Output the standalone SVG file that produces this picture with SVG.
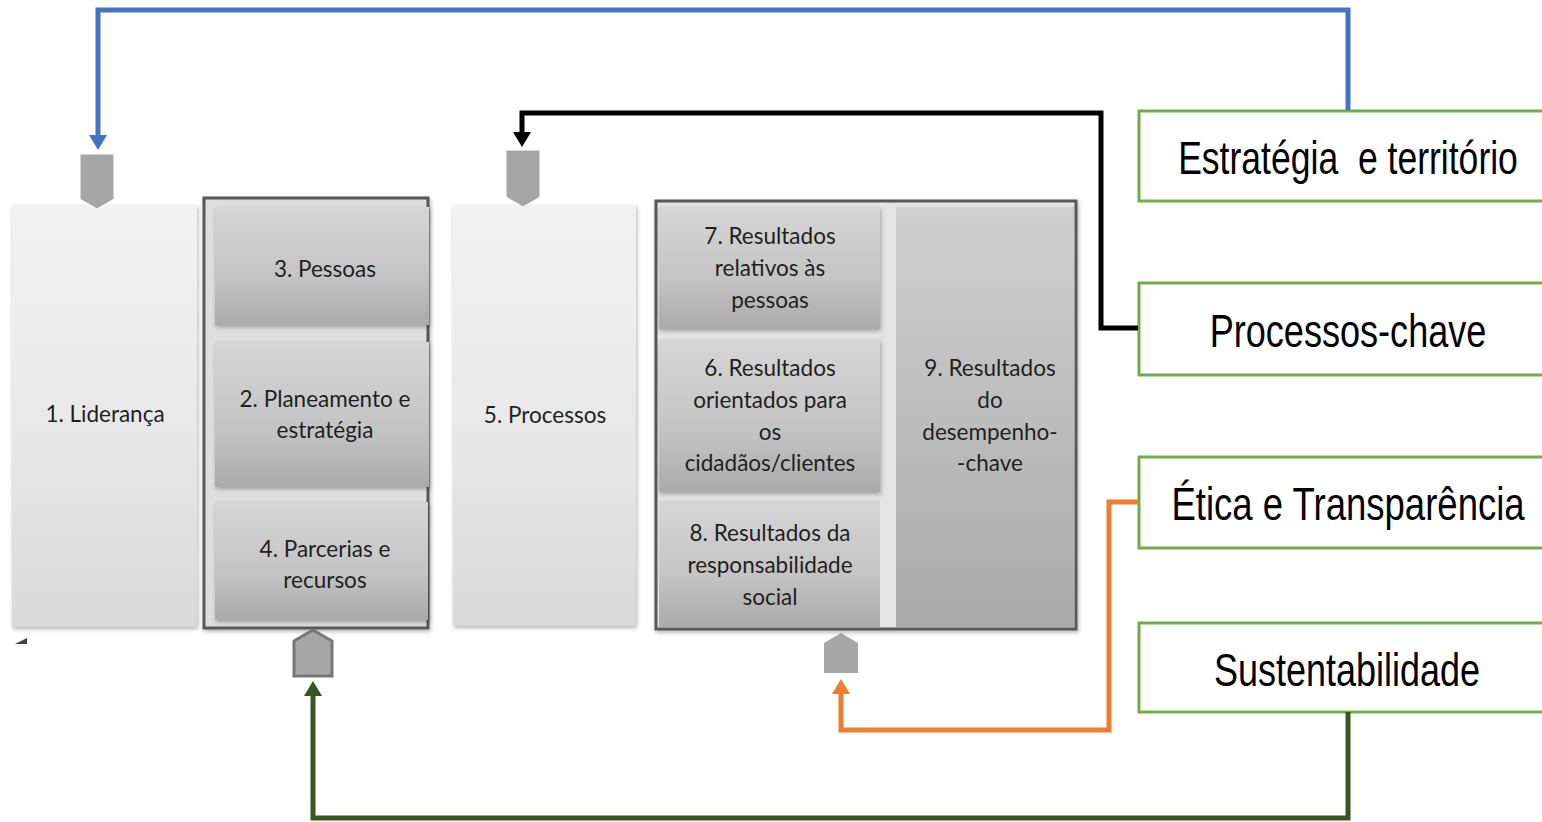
<svg xmlns="http://www.w3.org/2000/svg" width="1542" height="822" viewBox="0 0 1542 822">
<defs>
<linearGradient id="gLight" x1="0" y1="0" x2="0" y2="1">
<stop offset="0" stop-color="#f2f2f2"/><stop offset="0.5" stop-color="#e9e9e9"/><stop offset="1" stop-color="#d9d9d9"/>
</linearGradient>
<linearGradient id="gInner" x1="0" y1="0" x2="0" y2="1">
<stop offset="0" stop-color="#d6d6d6"/><stop offset="0.6" stop-color="#c4c4c4"/><stop offset="1" stop-color="#aaaaaa"/>
</linearGradient>
<linearGradient id="gTall" x1="0" y1="0" x2="0" y2="1">
<stop offset="0" stop-color="#cfcfcf"/><stop offset="0.5" stop-color="#bdbdbd"/><stop offset="1" stop-color="#a9a9a9"/>
</linearGradient>
<filter id="sh" x="-10%" y="-10%" width="125%" height="125%">
<feDropShadow dx="1" dy="2" stdDeviation="2" flood-color="#000" flood-opacity="0.3"/>
</filter>
<marker id="aBlue" markerUnits="userSpaceOnUse" markerWidth="20" markerHeight="20" refX="0" refY="0" orient="auto" overflow="visible"><path d="M0,-9 L15,0 L0,9 z" fill="#4472c4"/></marker>
<marker id="aBlack" markerUnits="userSpaceOnUse" markerWidth="20" markerHeight="20" refX="0" refY="0" orient="auto" overflow="visible"><path d="M0,-9 L15,0 L0,9 z" fill="#000"/></marker>
<marker id="aOrange" markerUnits="userSpaceOnUse" markerWidth="20" markerHeight="20" refX="0" refY="0" orient="auto" overflow="visible"><path d="M0,-9 L15,0 L0,9 z" fill="#ed7d31"/></marker>
<marker id="aGreen" markerUnits="userSpaceOnUse" markerWidth="20" markerHeight="20" refX="0" refY="0" orient="auto" overflow="visible"><path d="M0,-9 L15,0 L0,9 z" fill="#375623"/></marker>
</defs>
<style>
.t{font-family:Lato,"Open Sans","Liberation Sans",sans-serif;font-size:22.5px;fill:#1f1f1f;text-anchor:middle}
.big{font-family:"Liberation Sans",Arial,sans-serif;font-size:46px;fill:#000;text-anchor:middle;white-space:pre}
.gbox{fill:#fff;stroke:#70ad47;stroke-width:3}
.tab{fill:#a6a6a6}
.c{fill:none;stroke-width:5}
</style>
<rect width="1542" height="822" fill="#fff"/>

<g id="n1">
<rect x="12" y="205" width="185" height="422" fill="url(#gLight)" filter="url(#sh)"/>
<text class="t" x="105" y="422">1. Liderança</text>
</g>

<g id="grp-meios">
<rect x="204" y="198" width="224" height="430" fill="#dedede" stroke="#595959" stroke-width="3" filter="url(#sh)"/>
</g>
<g id="n3">
<rect x="215" y="207" width="214" height="118" fill="url(#gInner)" filter="url(#sh)"/>
<text class="t" x="325" y="277">3. Pessoas</text>
</g>
<g id="n2">
<rect x="215" y="342" width="214" height="145" fill="url(#gInner)" filter="url(#sh)"/>
<text class="t" x="325" y="407">2. Planeamento e</text>
<text class="t" x="325" y="438">estratégia</text>
</g>
<g id="n4">
<rect x="215" y="502" width="213" height="118" fill="url(#gInner)" filter="url(#sh)"/>
<text class="t" x="325" y="557">4. Parcerias e</text>
<text class="t" x="325" y="588">recursos</text>
</g>

<g id="n5">
<rect x="453" y="205" width="183" height="421" fill="url(#gLight)" filter="url(#sh)"/>
<text class="t" x="545" y="423">5. Processos</text>
</g>

<g id="grp-resultados">
<rect x="656" y="201" width="420" height="428" fill="#e4e4e4" stroke="#595959" stroke-width="3" filter="url(#sh)"/>
</g>
<g id="n7">
<rect x="659" y="207" width="221" height="122" fill="url(#gInner)" filter="url(#sh)"/>
<text class="t" x="770" y="244">7. Resultados</text>
<text class="t" x="770" y="276">relativos às</text>
<text class="t" x="770" y="308">pessoas</text>
</g>
<g id="n6">
<rect x="659" y="340" width="221" height="152" fill="url(#gInner)" filter="url(#sh)"/>
<text class="t" x="770" y="376">6. Resultados</text>
<text class="t" x="770" y="408">orientados para</text>
<text class="t" x="770" y="440">os</text>
<text class="t" x="770" y="471">cidadãos/clientes</text>
</g>
<g id="n8">
<rect x="659" y="500" width="221" height="127" fill="url(#gInner)"/>
<text class="t" x="770" y="541">8. Resultados da</text>
<text class="t" x="770" y="573">responsabilidade</text>
<text class="t" x="770" y="605">social</text>
</g>
<g id="n9">
<rect x="896" y="207" width="178" height="420" fill="url(#gTall)"/>
<text class="t" x="990" y="376">9. Resultados</text>
<text class="t" x="990" y="408">do</text>
<text class="t" x="990" y="440">desempenho-</text>
<text class="t" x="990" y="471">-chave</text>
</g>

<g id="tabs">
<polygon class="tab" points="80,154 114,154 114,199 97,209 80,199" stroke="#fff" stroke-width="1"/>
<polygon class="tab" points="506,150 540,150 540,197 523,207 506,197" stroke="#fff" stroke-width="1"/>
<polygon class="tab" points="294,641 313,630 332,641 332,676 294,676" stroke="#767676" stroke-width="3"/>
<polygon class="tab" points="824,643 841,633 858,643 858,673 824,673"/>
<polygon points="15,644 27,638 27,644" fill="#404040"/>
</g>

<g id="e1">
<rect class="gbox" x="1139" y="111" width="406" height="90"/>
<text class="big" transform="translate(1348,174) scale(0.75,1)" x="0" y="0" textLength="453" lengthAdjust="spacingAndGlyphs">Estratégia  e território</text>
</g>
<g id="e2">
<rect class="gbox" x="1139" y="283" width="406" height="92"/>
<text class="big" transform="translate(1348,347) scale(0.75,1)" x="0" y="0" textLength="369" lengthAdjust="spacingAndGlyphs">Processos-chave</text>
</g>
<g id="e3">
<rect class="gbox" x="1139" y="457" width="406" height="91"/>
<text class="big" transform="translate(1348,520) scale(0.75,1)" x="0" y="0" textLength="471" lengthAdjust="spacingAndGlyphs">Ética e Transparência</text>
</g>
<g id="e4">
<rect class="gbox" x="1139" y="623" width="406" height="89"/>
<text class="big" transform="translate(1347,686) scale(0.75,1)" x="0" y="0" textLength="355" lengthAdjust="spacingAndGlyphs">Sustentabilidade</text>
</g>

<g id="connectors">
<path class="c" stroke="#4472c4" d="M1348,110 V10 H98 V135" marker-end="url(#aBlue)"/>
<path class="c" stroke="#000" d="M1138,328 H1101 V113 H522 V132" marker-end="url(#aBlack)"/>
<path class="c" stroke="#ed7d31" d="M1138,502 H1109 V730 H841 V694" marker-end="url(#aOrange)"/>
<path class="c" stroke="#375623" d="M1348,712 V818 H313 V696" marker-end="url(#aGreen)"/>
</g>
</svg>
